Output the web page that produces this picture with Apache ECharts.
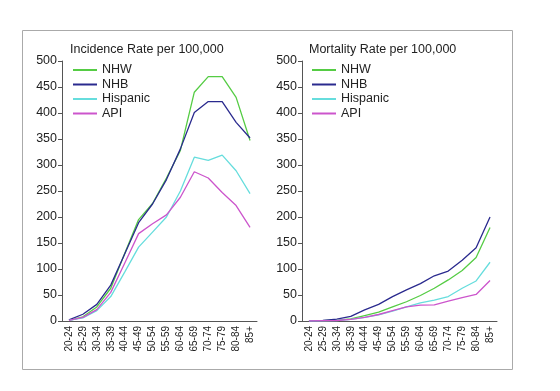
<!DOCTYPE html>
<html>
<head>
<meta charset="utf-8">
<script src="https://cdn.jsdelivr.net/npm/echarts@6/dist/echarts.min.js"></script>
<style>
html,body{margin:0;padding:0;background:#fff;}
#chart{width:560px;height:391px;}
</style>
</head>
<body>
<div id="chart"></div>
<script>
var categories = ['20-24','25-29','30-34','35-39','40-44','45-49','50-54','55-59','60-64','65-69','70-74','75-79','80-84','85+'];
var yTicks = [0,50,100,150,200,250,300,350,400,450,500];
var groupNames = ['NHW','NHB','Hispanic','API'];
var panelTitles = ['Incidence Rate per 100,000','Mortality Rate per 100,000'];

// Incidence
var incNHW = [1, 8, 27, 63, 130, 195, 226, 275, 328, 440, 470, 470, 430, 347];
var incNHB = [2, 13, 32, 69, 129, 189, 225, 272, 331, 401, 422, 422, 382, 352];
var incHispanic = [1, 6, 20, 47, 94, 142, 171, 200, 250, 315, 309, 319, 289, 245];
var incAPI = [1, 7, 22, 55, 111, 168, 187, 204, 238, 287, 275, 247, 222, 180];

// Mortality
var morNHW = [0, 0.5, 1.5, 4, 10.5, 17, 27, 37, 49, 63, 79, 97, 122, 180];
var morNHB = [0, 1, 3.5, 9, 21.5, 32, 47, 60, 72, 87, 96, 117, 141, 200];
var morHispanic = [0, 0.5, 1, 3, 7, 12, 19, 27, 35, 40, 47, 63, 77, 113];
var morAPI = [0, 0.5, 1, 3, 7, 12.5, 20, 27, 30.5, 31, 38, 45, 51, 78];

var colors = ['#55cc44', '#2a2a8e', '#66dddd', '#cc55cc'];
var FONT = '"Liberation Sans", Arial, sans-serif';

var incData = [incNHW, incNHB, incHispanic, incAPI];
var morData = [morNHW, morNHB, morHispanic, morAPI];

var grids = [
  {left: 62, top: 61, width: 195, height: 260},
  {left: 302, top: 61, width: 195, height: 260}
];

function xAxisFor(i) {
  return {
    type: 'category', gridIndex: i, data: categories, boundaryGap: true,
    axisLine: {lineStyle: {color: '#555', width: 1}},
    axisTick: {alignWithLabel: true, length: 4, lineStyle: {color: '#555'}},
    axisLabel: {rotate: 90, fontSize: 10, color: '#222', fontFamily: FONT, margin: 5, interval: 0}
  };
}
function yAxisFor(i) {
  return {
    type: 'value', gridIndex: i, min: yTicks[0], max: yTicks[yTicks.length-1], interval: 50,
    axisLine: {show: true, lineStyle: {color: '#555', width: 1}},
    axisTick: {show: true, length: 4, lineStyle: {color: '#555'}},
    splitLine: {show: false},
    axisLabel: {fontSize: 12.5, color: '#222', fontFamily: FONT, margin: 5}
  };
}

var series = [];
[incData, morData].forEach(function(set, p) {
  set.forEach(function(arr, k) {
    series.push({
      type: 'line', name: groupNames[k], xAxisIndex: p, yAxisIndex: p,
      data: arr, symbol: 'none', showSymbol: false,
      lineStyle: {color: colors[k], width: 1.3},
      itemStyle: {color: colors[k]},
      animation: false
    });
  });
});

function legendFor(left) {
  return {
    orient: 'vertical', left: left, top: 63.5, padding: 0,
    icon: 'rect', itemWidth: 24, itemHeight: 2, itemGap: 1.5,
    data: groupNames,
    textStyle: {fontSize: 12.5, color: '#222', fontFamily: FONT},
    selectedMode: false
  };
}

var chart = echarts.init(document.getElementById('chart'), null, {renderer: 'canvas'});
chart.setOption({
  animation: false,
  backgroundColor: '#fff',
  color: colors,
  title: [
    {text: panelTitles[0], left: 70, top: 43, padding: 0, textStyle: {fontSize: 12.5, fontWeight: 'normal', color: '#222', fontFamily: FONT}},
    {text: panelTitles[1], left: 309, top: 43, padding: 0, textStyle: {fontSize: 12.5, fontWeight: 'normal', color: '#222', fontFamily: FONT}}
  ],
  legend: [legendFor(73), legendFor(312)],
  graphic: [{
    type: 'rect', silent: true, z: -1,
    shape: {x: 22.5, y: 30.5, width: 490, height: 339},
    style: {fill: 'none', stroke: '#aaa', lineWidth: 1}
  }],
  grid: grids,
  xAxis: [xAxisFor(0), xAxisFor(1)],
  yAxis: [yAxisFor(0), yAxisFor(1)],
  series: series
});
</script>
</body>
</html>
